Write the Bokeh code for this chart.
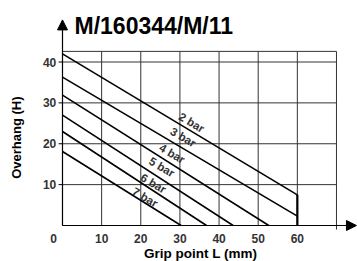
from bokeh.plotting import figure
from bokeh.models import Range1d, Arrow, NormalHead, ColumnDataSource
from bokeh.core.properties import value
from bokeh.embed import file_html
from bokeh.resources import INLINE

FONT = "Liberation Sans"

title_text = "M/160344/M/11"
x_label = "Grip point L (mm)"
y_label = "Overhang (H)"
x_ticks = [10, 20, 30, 40, 50, 60]
x_tick_labels = ["10", "20", "30", "40", "50", "60"]
y_ticks = [10, 20, 30, 40]
y_tick_labels = ["10", "20", "30", "40"]
origin_label = "0"
grid_x = [0, 10, 20, 30, 40, 50, 60, 70]
grid_y = [10, 20, 30, 40, 42.6]

pressures = ["2 bar", "3 bar", "4 bar", "5 bar", "6 bar", "7 bar"]
start_h = [42.0, 36.3, 31.9, 27.0, 23.0, 18.1]
end_x = [60, 60, 52.7, 43.6, 36.8, 30.3]
end_h = [7.5, 2.3, 0, 0, 0, 0]
label_x = [33.0, 30.8, 28.0, 25.4, 23.2, 21.1]
label_y = [25.2, 21.6, 17.6, 14.3, 10.3, 6.9]
max_grip = 60

# pixel scales: x 3.914 px/unit (0 at 62px), y 4.0875 px/unit (0 at 225px)
p = figure(width=357, height=261, x_range=Range1d(-15.84, 75.37), y_range=Range1d(-8.807, 55.05),
           min_border=0, x_axis_location=None, y_axis_location=None,
           output_backend="svg", toolbar_location=None)
p.outline_line_color = None
p.xgrid.visible = False
p.ygrid.visible = False
p.background_fill_color = "white"

# grid
top = grid_y[-1]
p.segment(x0=grid_x, y0=[0] * len(grid_x), x1=grid_x, y1=[top] * len(grid_x),
          line_color="#333333", line_width=1)
p.segment(x0=[grid_x[-1]], y0=[-1.0], x1=[grid_x[-1]], y1=[0], line_color="#333333", line_width=1)
p.segment(x0=[0] * len(grid_y), y0=grid_y, x1=[grid_x[-1]] * len(grid_y), y1=grid_y,
          line_color="#333333", line_width=1)

# pressure lines
xs = [[0, ex] for ex in end_x]
ys = [[sh, eh] for sh, eh in zip(start_h, end_h)]
p.multi_line(xs=xs, ys=ys, line_color="black", line_width=1.6)
p.segment(x0=[max_grip], y0=[0], x1=[max_grip], y1=[end_h[0]], line_color="black", line_width=2.2)

src = ColumnDataSource(dict(x=label_x, y=label_y, t=pressures))
p.text(x="x", y="y", text="t", source=src, angle=-0.53, text_align="center",
       text_baseline="middle", text_font=value(FONT), text_font_style="bold",
       text_font_size="11.5px", text_color="#333333")

# axes arrows
p.add_layout(Arrow(end=NormalHead(size=10, fill_color="black", line_color="black"),
                   x_start=0, y_start=0, x_end=75.1, y_end=0, line_color="black", line_width=1.2))
p.add_layout(Arrow(end=NormalHead(size=10, fill_color="black", line_color="black"),
                   x_start=0, y_start=0, x_end=0, y_end=50.3, line_color="black", line_width=1.2))

# y tick marks
p.segment(x0=[-1.0] * len(y_ticks), y0=y_ticks, x1=[0] * len(y_ticks), y1=y_ticks,
          line_color="black", line_width=1)

tick_style = dict(text_font=value(FONT), text_font_style="bold", text_font_size="12px",
                  text_color="#333333", text_baseline="middle")
p.text(x=x_ticks, y=[-3.2] * len(x_ticks), text=x_tick_labels, text_align="center", **tick_style)
p.text(x=[-1.6] * len(y_ticks), y=y_ticks, text=y_tick_labels, text_align="right", **tick_style)
p.text(x=[-2.3], y=[-3.2], text=[origin_label], text_align="center", **tick_style)

# title and axis labels
p.text(x=[3.07], y=[48.93], text=[title_text], text_font=value(FONT), text_font_style="bold",
       text_font_size="23px", text_color="black", text_align="left", text_baseline="alphabetic")
p.text(x=[35.3], y=[-6.85], text=[x_label], text_font=value(FONT), text_font_style="bold",
       text_font_size="13.5px", text_color="black", text_align="center", text_baseline="alphabetic")
p.text(x=[-11.75], y=[21.5], text=[y_label], angle=1.5708, text_font=value(FONT),
       text_font_style="bold", text_font_size="13px", text_color="black",
       text_align="center", text_baseline="middle")

open("out.html", "w").write(file_html(p, INLINE))
